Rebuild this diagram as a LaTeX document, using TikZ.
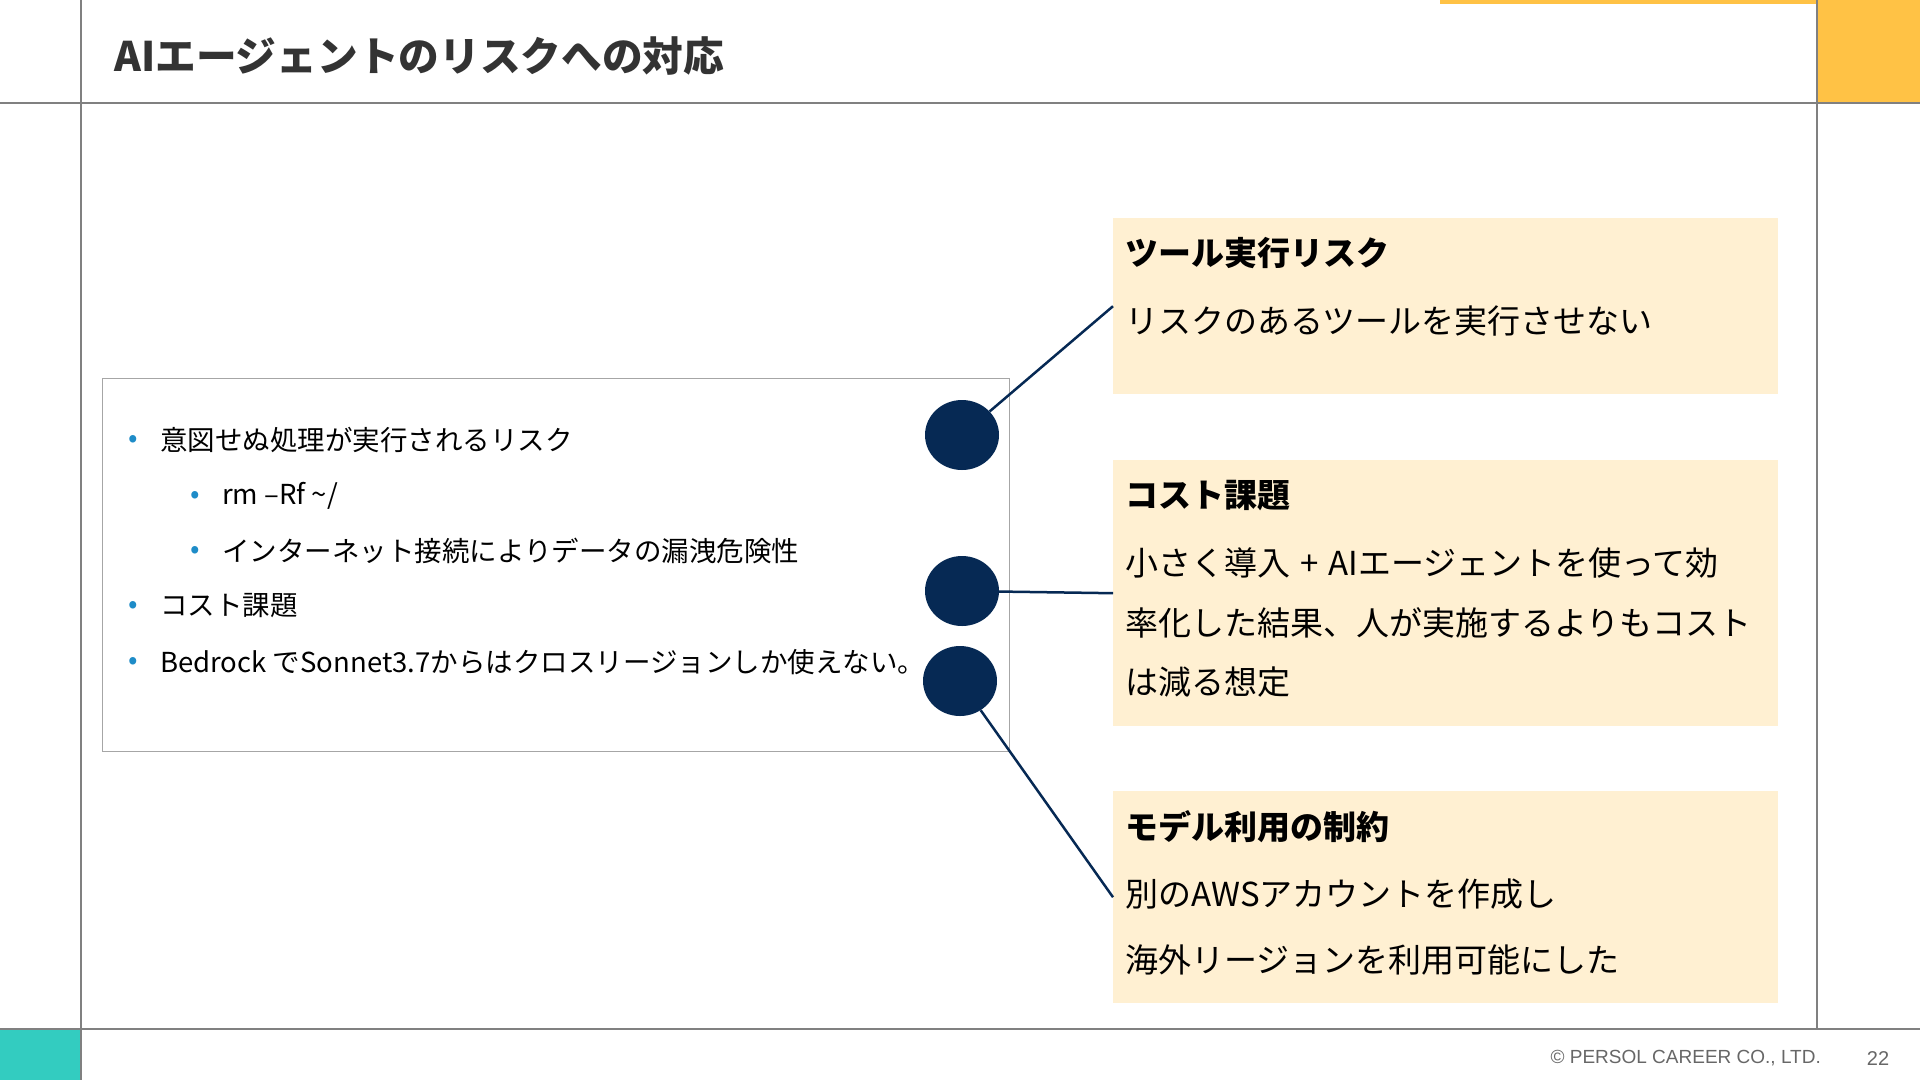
\documentclass[tikz,border=0pt]{standalone}
\usepackage{fontspec}
\setmainfont{Noto Sans CJK JP}
\newfontfamily\footfont{Liberation Sans}
\usetikzlibrary{shapes.geometric}
\definecolor{navy}{RGB}{6,41,84}
\definecolor{cream}{RGB}{255,240,210}
\definecolor{accent}{RGB}{255,194,69}
\definecolor{teal}{RGB}{51,204,192}
\definecolor{bulblue}{RGB}{30,140,200}
\definecolor{titlegray}{RGB}{51,51,51}
\definecolor{rule}{RGB}{128,128,128}
\begin{document}
\begin{tikzpicture}[x=1pt,y=-1pt,
  frameline/.style={draw=rule, line width=1.5pt},
  bx/.style={fill=cream, draw=none, inner sep=0, anchor=north west},
  dotc/.style={ellipse, fill=navy, minimum width=74pt, minimum height=70pt, inner sep=0},
  link/.style={draw=navy, line width=2.5pt},
  bul/.style={anchor=center, inner sep=0, text=bulblue, font=\fontsize{28pt}{30pt}\selectfont},
  txt/.style={anchor=west, inner sep=0, font=\fontsize{27.5pt}{32pt}\selectfont},
  hd/.style={anchor=west, inner sep=0, font=\fontsize{33pt}{40pt}\selectfont\bfseries},
  bd/.style={anchor=west, inner sep=0, font=\fontsize{33pt}{40pt}\selectfont}
]
\useasboundingbox (0,0) rectangle (1920,1080);
\fill[white] (0,0) rectangle (1920,1080);
% accents
\fill[accent] (1817,0) rectangle (1920,103);
\fill[accent] (1440,0) rectangle (1817,4);
\fill[teal] (0,1029) rectangle (81,1080);
% frame lines
\draw[frameline] (0,103) -- (1920,103);
\draw[frameline] (0,1029) -- (1920,1029);
\draw[frameline, line width=1.2pt] (81,0) -- (81,1080);
\draw[frameline, line width=1.2pt] (1817,0) -- (1817,1029);
% title
\node[anchor=west, inner sep=0, text=titlegray, font=\fontsize{40.7pt}{48pt}\selectfont\bfseries] (title) at (114,56) {AIエージェントのリスクへの対応};
% left box
\node[draw=rule!70, line width=1.2pt, fill=white, minimum width=907pt, minimum height=373pt, inner sep=0, anchor=north west] (lbox) at (102,378) {};
\node[bul] (p1) at (133,441) {•};
\node[txt] (t1) at (160,440) {意図せぬ処理が実行されるリスク};
\node[bul] (p2) at (195,497) {•};
\node[txt] (t2) at (222,496) {rm –Rf \textasciitilde/};
\node[bul] (p3) at (195,552) {•};
\node[txt] (t3) at (222,551) {インターネット接続によりデータの漏洩危険性};
\node[bul] (p4) at (133,607) {•};
\node[txt] (t4) at (160,606) {コスト課題};
\node[bul] (p5) at (133,663) {•};
\node[txt] (t5) at (160,662) {Bedrock でSonnet3.7からはクロスリージョンしか使えない。};
% right boxes
\node[bx, minimum width=665pt, minimum height=176pt] (b1) at (1113,218) {};
\node[bx, minimum width=665pt, minimum height=266pt] (b2) at (1113,460) {};
\node[bx, minimum width=665pt, minimum height=212pt] (b3) at (1113,791) {};
\node[hd] (h1) at (1125,253) {ツール実行リスク};
\node[bd] (d1) at (1125,321) {リスクのあるツールを実行させない};
\node[hd] (h2) at (1125,496) {コスト課題};
\node[bd] (d2a) at (1125,563) {小さく導入\hspace{0.3em}+\hspace{0.3em}AIエージェントを使って効};
\node[bd] (d2b) at (1125,623) {率化した結果、人が実施するよりもコスト};
\node[bd] (d2c) at (1125,682) {は減る想定};
\node[hd] (h3) at (1125,827) {モデル利用の制約};
\node[bd] (d3a) at (1125,894) {別のAWSアカウントを作成し};
\node[bd] (d3b) at (1125,960) {海外リージョンを利用可能にした};
% circles
\node[dotc] (c1) at (962,435) {};
\node[dotc] (c2) at (962,591) {};
\node[dotc] (c3) at (960,681) {};
% connectors
\draw[link] (c1) -- (b1.west);
\draw[link] (c2) -- (b2.west);
\draw[link] (c3) -- (b3.west);
% footer
\node[anchor=east, inner sep=0, text=rule!80!black, font=\footfont\fontsize{19pt}{21pt}\selectfont] (copy) at (1821,1058) {© PERSOL CAREER CO., LTD.};
\node[anchor=center, inner sep=0, text=rule!80!black, font=\footfont\fontsize{20pt}{22pt}\selectfont] (pg) at (1878,1059) {22};
\end{tikzpicture}
\end{document}
